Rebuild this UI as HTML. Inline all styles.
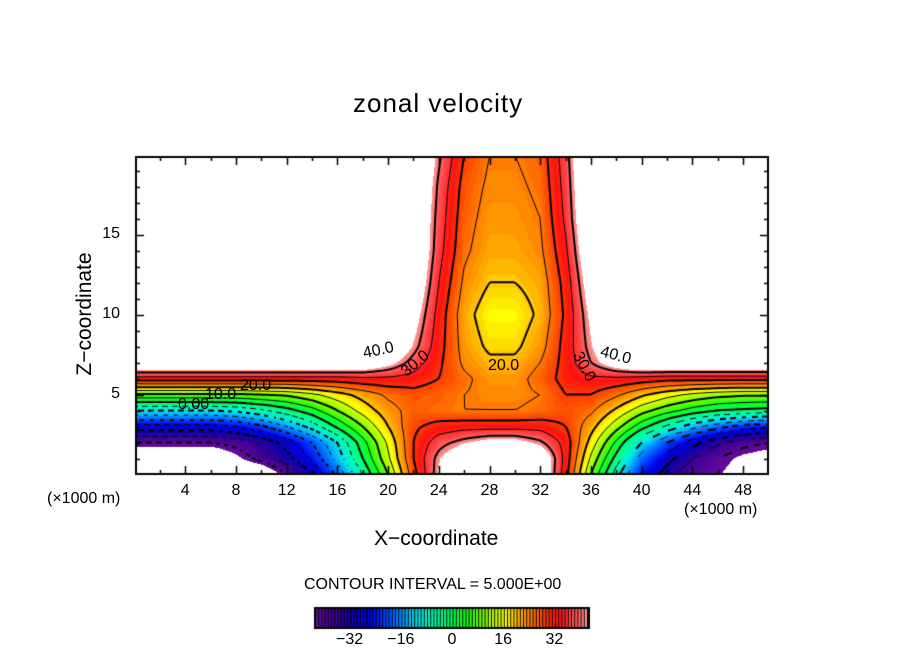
<!DOCTYPE html>
<html><head><meta charset="utf-8">
<style>
html,body{margin:0;padding:0;background:#fff;}
#wrap{position:relative;width:904px;height:654px;overflow:hidden;font-family:"Liberation Sans",sans-serif;color:#000;}
.t{position:absolute;white-space:nowrap;}
.cl{position:absolute;font-size:16px;white-space:nowrap;transform-origin:center center;}
</style></head>
<body>
<div id="wrap">
<canvas id="cv" width="904" height="654" style="position:absolute;left:0;top:0"></canvas>
<div class="t" style="left:353px;top:88px;font-size:26px;letter-spacing:1px">zonal velocity</div>
<div class="t" style="left:0px;top:302px;width:170px;text-align:center;font-size:21px;transform:rotate(-90deg)">Z−coordinate</div>
<div class="t" style="left:374px;top:527px;font-size:21px">X−coordinate</div>
<div class="t" style="left:47px;top:490px;font-size:16px">(×1000 m)</div>
<div class="t" style="left:684px;top:501px;font-size:16px">(×1000 m)</div>
<div class="t" style="left:304px;top:576px;font-size:16px">CONTOUR INTERVAL = 5.000E+00</div>
<div class="cl" style="left:363px;top:342px;transform:rotate(-12deg)">40.0</div>
<div class="cl" style="left:400px;top:355px;transform:rotate(-40deg)">30.0</div>
<div class="cl" style="left:488px;top:357px">20.0</div>
<div class="cl" style="left:568px;top:358px;transform:rotate(62deg)">30.0</div>
<div class="cl" style="left:600px;top:347px;transform:rotate(15deg)">40.0</div>
<div class="cl" style="left:240px;top:377px">20.0</div>
<div class="cl" style="left:205px;top:386px">10.0</div>
<div class="cl" style="left:178px;top:396px">0.00</div>
<div id="labels"></div>
</div>
<script>
const xNodes=[0,2,4,6,8,10,12,14,16,18,20,22,24,26,28,30,32,34,36,38,40,42,44,46,48,50];
const zNodes=[0,1,2,3,4,5,6,7,8,10,12,14,16,18,20];
const rowZ0 =[-50,-50,-50,-50,-50,-50,-40,-30,-19,-5,10,28,43,50,50,50,50,32,10,-8,-24,-33,-39,-42,-46,-50];
const rowZ1 =[-50,-50,-50,-50,-44,-38,-32,-24,-13,0,14,30,42,50,50,50,50,33,14,-2,-18,-28,-35,-40,-44,-46];
const rowZ2 =[-40,-40,-40,-40,-38,-34,-28,-20,-10,3,16,30,38,42,45,45,41,33,18,4,-10,-20,-28,-34,-38,-40];
const rowZ3 =[-27,-27,-27,-27,-25,-21,-15,-8,1,10,20,29,32,33,33,33,33,30,22,12,2,-6,-13,-18,-22,-24];
const rowZ4 =[-10,-10,-10,-10,-9,-6,-2,3,10,17,23,27,26,25,25,25,26,28,26,19,12,7,3,0,-1,-2];
const rowZ5 =[9,9,9,9,9,10,11,14,18,22,26,28,27,25,24,24,25,30,30,26,21,17,14,12,11,11];
const rowZ6 =[33,33,33,33,33,33,33,33,33,34,34,33,30,26,23,23,27,32,34,34,33,32,32,32,32,32];
const rowZ7 =[52,52,52,52,52,52,52,52,52,50,45,38,31,24,21,21,25,32,40,47,52,52,52,52,52,52];
const rowZ8 =[55,55,55,55,55,55,55,55,55,55,52,42,32,23,19,19,23,32,42,52,55,55,55,55,55,55];
const rowZ10=[55,55,55,55,55,55,55,55,55,55,55,46,33,22,17,17,21,31,44,55,55,55,55,55,55,55];
const rowZ12=[55,55,55,55,55,55,55,55,55,55,55,50,35,24,20,20,22,32,47,55,55,55,55,55,55,55];
const rowZ14=[55,55,55,55,55,55,55,55,55,55,55,52,37,26,22,22,24,34,50,55,55,55,55,55,55,55];
const rowZ16=[55,55,55,55,55,55,55,55,55,55,55,52,38,27,23,23,25,36,52,55,55,55,55,55,55,55];
const rowZ18=[55,55,55,55,55,55,55,55,55,55,55,53,39,28,24,24,26,37,53,55,55,55,55,55,55,55];
const rowZ20=[55,55,55,55,55,55,55,55,55,55,55,54,41,30,25,25,27,38,54,55,55,55,55,55,55,55];
const field=[rowZ0,rowZ1,rowZ2,rowZ3,rowZ4,rowZ5,rowZ6,rowZ7,rowZ8,rowZ10,rowZ12,rowZ14,rowZ16,rowZ18,rowZ20];
const xTicks=[4,8,12,16,20,24,28,32,36,40,44,48];
const zTicks=[5,10,15];
const cbTicks=[-32,-16,0,16,32];
const levels=[-40,-35,-30,-25,-20,-15,-10,-5,0,5,10,15,20,25,30,35,40];

const L=136,R=768,T=157,B=474;
const X0=134.5,XS=12.68,Z0=474.5,ZS=16;
const px=x=>X0+x*XS, pz=z=>Z0-z*ZS;
const vmin=-42.5,vmax=42.5;

function idx(arr,v){let i=0;while(i<arr.length-2&&v>arr[i+1])i++;return i;}
function val(x,z){
  x=Math.max(0,Math.min(50,x));z=Math.max(0,Math.min(20,z));
  const i=idx(xNodes,x),j=idx(zNodes,z);
  const tx=(x-xNodes[i])/(xNodes[i+1]-xNodes[i]),tz=(z-zNodes[j])/(zNodes[j+1]-zNodes[j]);
  const a=field[j][i],b=field[j][i+1],c=field[j+1][i],d=field[j+1][i+1];
  return (a*(1-tx)+b*tx)*(1-tz)+(c*(1-tx)+d*tx)*tz;
}
const stops=[[0,[106,10,154]],[0.08,[58,0,150]],[0.13,[16,0,170]],[0.2,[0,0,230]],[0.26,[0,70,255]],[0.32,[0,150,255]],[0.38,[0,232,232]],[0.45,[0,255,160]],[0.5,[0,255,90]],[0.56,[20,255,20]],[0.62,[130,255,0]],[0.7,[255,255,0]],[0.76,[255,165,0]],[0.83,[255,80,0]],[0.89,[255,16,16]],[0.95,[255,80,80]],[1,[255,150,150]]];
function cmap(f){
  for(let k=0;k<stops.length-1;k++){
    if(f<=stops[k+1][0]){const t=(f-stops[k][0])/(stops[k+1][0]-stops[k][0]);
      return stops[k][1].map((c,n)=>Math.round(c+(stops[k+1][1][n]-c)*t));}
  }
  return stops[stops.length-1][1];
}
function colorOf(v){
  if(v>vmax||v<vmin)return [255,255,255];
  const q=Math.min(84,Math.floor(v-vmin));
  return cmap((q+0.5)/85);
}
const cv=document.getElementById('cv');const ctx=cv.getContext('2d');
const img=ctx.createImageData(R-L,B-T);
for(let y=T;y<B;y++)for(let x=L;x<R;x++){
  const v=val((x+0.5-X0)/XS,(Z0-y-0.5)/ZS);const c=colorOf(v);
  const o=((y-T)*(R-L)+(x-L))*4;img.data[o]=c[0];img.data[o+1]=c[1];img.data[o+2]=c[2];img.data[o+3]=255;
}
ctx.putImageData(img,L,T);
const S=2;const nx=Math.ceil((R-L)/S),ny=Math.ceil((B-T)/S);
const g=[];for(let j=0;j<=ny;j++){g.push([]);for(let i=0;i<=nx;i++){const X=L+i*S,Y=T+j*S;g[j].push(val((X-X0)/XS,(Z0-Y)/ZS));}}
ctx.save();ctx.beginPath();ctx.rect(L,T,R-L,B-T);ctx.clip();
ctx.strokeStyle='#000';ctx.lineCap='butt';
levels.forEach(lv=>{
  ctx.beginPath();ctx.lineWidth=(lv%10===0)?2:1;
  for(let j=0;j<ny;j++)for(let i=0;i<nx;i++){
    const v=[g[j][i],g[j][i+1],g[j+1][i+1],g[j+1][i]];
    const P=[[0,0],[1,0],[1,1],[0,1]];const pts=[];
    for(let e=0;e<4;e++){const a=v[e],b=v[(e+1)%4];
      if((a<lv)!==(b<lv)){const t=(lv-a)/(b-a);const p=P[e],q=P[(e+1)%4];
        pts.push([L+(i+p[0]+(q[0]-p[0])*t)*S,T+(j+p[1]+(q[1]-p[1])*t)*S]);}}
    if(pts.length>=2){
      if(lv<0&&Math.floor((pts[0][0]+pts[0][1])/5)%2===1)continue;
      ctx.moveTo(pts[0][0],pts[0][1]);ctx.lineTo(pts[1][0],pts[1][1]);
      if(pts.length===4){ctx.moveTo(pts[2][0],pts[2][1]);ctx.lineTo(pts[3][0],pts[3][1]);}
    }
  }
  ctx.stroke();
});
ctx.restore();
ctx.strokeStyle='#000';ctx.lineWidth=2;ctx.strokeRect(L,T,R-L,B-T);
ctx.lineWidth=1.5;ctx.beginPath();
for(let x=2;x<=49;x+=2){const len=(x%4===0)?8:4;const X=Math.round(px(x))+0.5;
  ctx.moveTo(X,B);ctx.lineTo(X,B-len);ctx.moveTo(X,T);ctx.lineTo(X,T+len);}
for(let z=1;z<=19;z++){const len=(z%5===0)?8:4;const Y=Math.round(pz(z))+0.5;
  ctx.moveTo(L,Y);ctx.lineTo(L+len,Y);ctx.moveTo(R,Y);ctx.lineTo(R-len,Y);}
ctx.stroke();
const CL=316,CR=588,CT=609,CB=627;
ctx.fillStyle='#000';ctx.fillRect(CL-2,CT-2,CR-CL+4,CB-CT+4);
for(let k=0;k<85;k++){const x0=CL+k*(CR-CL)/85,x1=CL+(k+1)*(CR-CL)/85;
  const c=cmap((k+0.5)/85);ctx.fillStyle='rgb('+c+')';ctx.fillRect(x0,CT,x1-x0-1,CB-CT);}
const lab=document.getElementById('labels');
function addText(txt,left,top,name,w,align){
  const d=document.createElement('div');d.className='t';d.textContent=txt;
  d.style.left=left+'px';d.style.top=top+'px';d.style.fontSize='16px';
  if(w){d.style.width=w+'px';d.style.textAlign=align;}
  
  
  lab.appendChild(d);
}
xTicks.forEach(x=>addText(String(x),px(x)-20,482,'x-tick-label',40,'center'));
zTicks.forEach(z=>addText(String(z),80,pz(z)-10,'y-tick-label',40,'right'));
cbTicks.forEach(v=>addText(v<0?'−'+(-v):String(v),CL+(v-vmin)/85*(CR-CL)-25,631,'colorbar-tick-label',50,'center'));
</script>
</body></html>
